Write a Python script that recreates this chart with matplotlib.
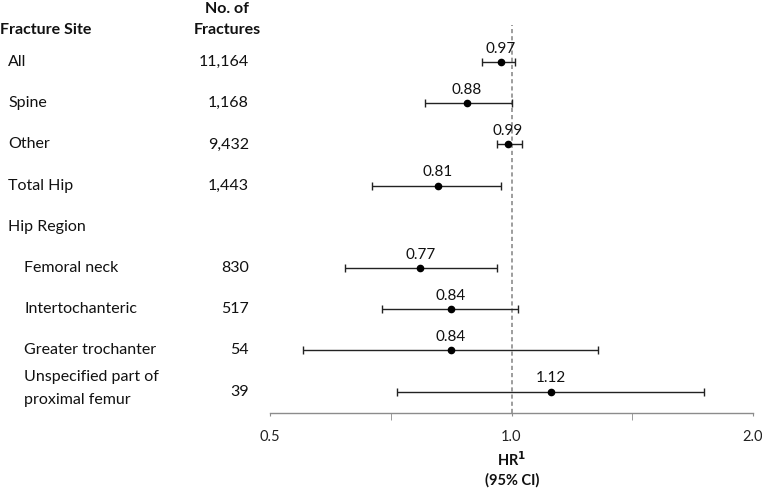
import matplotlib
matplotlib.use("Agg")
import matplotlib.pyplot as plt
import matplotlib.transforms as mtransforms
from matplotlib.ticker import FixedLocator, NullFormatter

plt.rcParams['font.family'] = ['Lato', 'DejaVu Sans']

# ---- data ----
sites = ["All", "Spine", "Other", "Total Hip", "Hip Region",
         "Femoral neck", "Intertochanteric", "Greater trochanter",
         "Unspecified part of\nproximal femur"]
indent = [0, 0, 0, 0, 0, 1, 1, 1, 1]
counts = ["11,164", "1,168", "9,432", "1,443", "", "830", "517", "54", "39"]
hr = [0.97, 0.88, 0.99, 0.81, None, 0.77, 0.84, 0.84, 1.12]
ci_low = [0.92, 0.78, 0.96, 0.67, None, 0.62, 0.69, 0.55, 0.72]
ci_high = [1.01, 1.00, 1.03, 0.97, None, 0.96, 1.02, 1.28, 1.74]
hr_labels = ["0.97", "0.88", "0.99", "0.81", "", "0.77", "0.84", "0.84", "1.12"]
major_ticks = [0.5, 1.0, 2.0]
major_labels = ["0.5", "1.0", "2.0"]
minor_ticks = [0.7071, 1.4142]

W, H = 762, 493
fig = plt.figure(figsize=(W / 100, H / 100), dpi=100)
ax = fig.add_axes([270 / W, (H - 413) / H, (753 - 270) / W, (413 - 25) / H])
ax.set_xscale('log')
ax.set_xlim(0.5, 2.0)
ax.set_ylim(8.52, -0.9)

gray = '#8c8c8c'
for s in ['top', 'right', 'left']:
    ax.spines[s].set_visible(False)
ax.spines['bottom'].set_color(gray)
ax.spines['bottom'].set_linewidth(1.0)
ax.set_yticks([])
ax.xaxis.set_major_locator(FixedLocator(major_ticks))
ax.set_xticklabels(major_labels, fontsize=10.5)
ax.xaxis.set_minor_locator(FixedLocator(minor_ticks))
ax.xaxis.set_minor_formatter(NullFormatter())
ax.tick_params(axis='x', which='major', length=2.5, color=gray, pad=10, labelcolor='#222222')
ax.tick_params(axis='x', which='minor', length=5, color=gray)

ax.axvline(1.0, color=gray, linestyle=(0, (2.5, 1.8)), linewidth=1.2, zorder=1)

for i in range(len(sites)):
    if hr[i] is None:
        continue
    ax.errorbar(hr[i], i, xerr=[[hr[i] - ci_low[i]], [ci_high[i] - hr[i]]],
                fmt='o', color='black', ecolor='#222222', elinewidth=1.0,
                capsize=3, capthick=1.0, markersize=4.5, zorder=3)
    ax.annotate(hr_labels[i], (hr[i], i), xytext=(0, 4.5), textcoords='offset points',
                ha='center', va='bottom', fontsize=11, color='#111111')

trans = mtransforms.blended_transform_factory(fig.transFigure, ax.transData)
for i, name in enumerate(sites):
    x0 = (8 + 16 * indent[i]) / W
    ax.text(x0, i - (0.08 if '\n' in name else 0), name, transform=trans,
            ha='left', va='center', fontsize=11.5, color='#111111', linespacing=1.85)
    if counts[i]:
        ax.text(249 / W, i, counts[i], transform=trans, ha='right', va='center',
                fontsize=11.5, color='#111111')

fig.text(0 / W, 1 - 30 / H, "Fracture Site", ha='left', va='center',
         fontsize=11.5, fontweight='bold', color='#111111')
fig.text(227 / W, 1 - 9 / H, "No. of", ha='center', va='center',
         fontsize=11.5, fontweight='bold', color='#111111')
fig.text(227 / W, 1 - 30 / H, "Fractures", ha='center', va='center',
         fontsize=11.5, fontweight='bold', color='#111111')

fig.text(512 / W, 1 - 460 / H, r"HR$^{\mathbf{1}}$", ha='center', va='center',
         fontsize=10.5, fontweight='bold', color='#111111')
fig.text(512 / W, 1 - 480 / H, "(95% CI)", ha='center', va='center',
         fontsize=10.5, fontweight='bold', color='#111111')

fig.savefig("out.png", dpi=100)
